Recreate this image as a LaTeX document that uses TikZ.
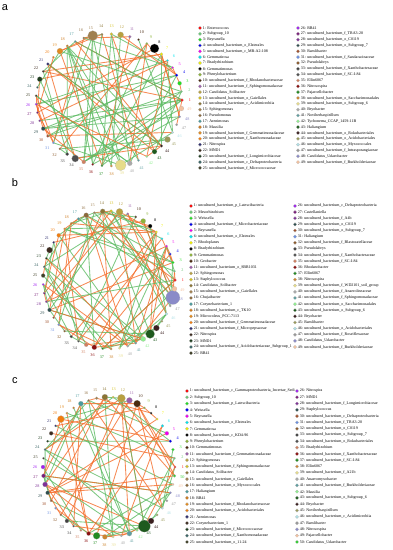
\documentclass[tikz,border=0pt]{standalone}
\usepackage{fontspec}
\setmainfont{Liberation Serif}
\newfontfamily\panelfont{Liberation Sans}
\usetikzlibrary{positioning,backgrounds}

% taxon colours, shared by the three networks
\definecolor{c1}{HTML}{FF0000}\definecolor{c2}{HTML}{6CC67A}\definecolor{c3}{HTML}{22DD22}
\definecolor{c4}{HTML}{0000EE}\definecolor{c5}{HTML}{EE00EE}\definecolor{c6}{HTML}{00E5EE}
\definecolor{c7}{HTML}{EEEE00}\definecolor{c8}{HTML}{000000}\definecolor{c9}{HTML}{8DB33A}
\definecolor{c10}{HTML}{4A2A10}\definecolor{c11}{HTML}{9B5FA8}\definecolor{c12}{HTML}{B8A040}
\definecolor{c13}{HTML}{D4C020}\definecolor{c14}{HTML}{8B7535}\definecolor{c15}{HTML}{A08050}
\definecolor{c16}{HTML}{8C6A3C}\definecolor{c17}{HTML}{4B9A9C}\definecolor{c18}{HTML}{CD7A1E}
\definecolor{c19}{HTML}{E08A20}\definecolor{c20}{HTML}{F07D10}\definecolor{c21}{HTML}{2E2E6E}
\definecolor{c22}{HTML}{3D2B1F}\definecolor{c23}{HTML}{1F3D1F}\definecolor{c24}{HTML}{3A6565}
\definecolor{c25}{HTML}{3F3F26}\definecolor{c26}{HTML}{A020F0}\definecolor{c27}{HTML}{7A1F7A}
\definecolor{c28}{HTML}{7F3396}\definecolor{c29}{HTML}{2F4F4F}\definecolor{c30}{HTML}{A0522D}
\definecolor{c31}{HTML}{6A8FE0}\definecolor{c32}{HTML}{8B5A2B}\definecolor{c33}{HTML}{404040}
\definecolor{c34}{HTML}{505050}\definecolor{c35}{HTML}{D08060}\definecolor{c36}{HTML}{8B1010}
\definecolor{c37}{HTML}{228B22}\definecolor{c38}{HTML}{CD8530}\definecolor{c39}{HTML}{E6DC8A}
\definecolor{c40}{HTML}{A9A9A9}\definecolor{c41}{HTML}{5F9EA0}\definecolor{c42}{HTML}{90EE90}
\definecolor{c43}{HTML}{1E5A1E}\definecolor{c44}{HTML}{3A1F1F}\definecolor{c45}{HTML}{9A9A5A}
\definecolor{c46}{HTML}{B0E0E6}\definecolor{c47}{HTML}{989898}\definecolor{c48}{HTML}{8A8AC8}
\definecolor{c49}{HTML}{F4C2A0}\definecolor{c50}{HTML}{32CD32}
\definecolor{linkgreen}{HTML}{5DBB63}
\definecolor{linkorange}{HTML}{F46D2A}

\tikzset{
  taxon/.style={circle, inner sep=0pt, draw=black!30, line width=0.1pt},
  ringlabel/.style={font=\fontsize{4.2}{4.2}\selectfont, inner sep=0pt},
  legenddot/.style={circle, inner sep=0pt, minimum size=3.4pt, draw=black!30, line width=0.1pt},
  legendtext/.style={font=\fontsize{4}{4}\selectfont, inner sep=0pt},
  poslink/.style={draw=linkgreen, opacity=0.8, line width=0.85pt},
  neglink/.style={draw=linkorange, opacity=0.8, line width=0.85pt},
  panellabel/.style={font=\panelfont\fontsize{11}{11}\selectfont, inner sep=0pt}
}

% ring of taxa: name, count, centre x, centre y, x radius, y radius, node radii
\newcommand{\taxonring}[7]{%
  \foreach \rad [count=\k] in {#7} {
    \pgfmathsetmacro\ang{(\k-1)/#2*360}
    \pgfmathsetmacro\dia{2*\rad}
    \pgfmathsetmacro\nx{#3+#5*cos(\ang)}
    \pgfmathsetmacro\ny{#4-#6*sin(\ang)}
    \pgfmathsetmacro\lx{#3+(#5+8)*cos(\ang)}
    \pgfmathsetmacro\ly{#4-(#6+8)*sin(\ang)}
    \node[taxon, fill=c\k, minimum size=\dia pt] (#1\k) at (\nx,\ny) {};
    \node[ringlabel, text=c\k] (#1l\k) at (\lx,\ly) {\k};
  }
}

% correlations: name, count, number of links, seed
\newcommand{\taxonlinks}[4]{%
  \pgfmathsetseed{#4}
  \begin{pgfonlayer}{background}
    \foreach \e in {1,...,#3} {
      \pgfmathrandominteger{\src}{1}{#2}
      \pgfmathrandominteger{\dst}{1}{#2}
      \pgfmathrandominteger{\sgn}{0}{9}
      \ifnum\src=\dst\else
        \ifnum\sgn<5 \draw[poslink] (#1\src.center) -- (#1\dst.center);
        \else \draw[neglink] (#1\src.center) -- (#1\dst.center); \fi
      \fi
    }
  \end{pgfonlayer}
}

% legend: name, x of column 1, x of column 2, y of first row, row step, rows in column 1, entries
\newcommand{\taxonlegend}[7]{%
  \foreach \k/\txt in {#7} {
    \ifnum\k>#6
      \pgfmathsetmacro\lx{#3}\pgfmathsetmacro\ly{#4+(\k-#6-1)*#5}
    \else
      \pgfmathsetmacro\lx{#2}\pgfmathsetmacro\ly{#4+(\k-1)*#5}
    \fi
    \node[legenddot, fill=c\k] (#1d\k) at (\lx,\ly) {};
    \node[legendtext, right=0.9pt of #1d\k] (#1t\k) {\k: \txt};
  }
}

\begin{document}
\begin{tikzpicture}[x=1pt, y=-1pt]
  \useasboundingbox (0,0) rectangle (393,550);

  % panel a
  \node[panellabel] (labela) at (5,8) {a};
  \taxonring{a}{49}{109}{100}{73}{66}{1.5,1.2,2,1.5,1.2,1.2,1.5,4.5,1.2,1.2,
    1.5,3,1.5,1.2,5,1.2,1.2,1.2,3,1.2,1.5,1.2,2.5,1.2,1.2,1.2,1.2,1.2,2,1.5,
    1.2,1.2,1.8,3.5,2,1.2,1.2,1.2,5.5,2.5,1.2,1.2,2.5,1.5,3,1.2,1.2,1.2,2.5}
  \taxonlinks{a}{49}{92}{11}
  \taxonlegend{a}{200}{298}{28}{5.83}{25}{1/Enterococcus, 2/Subgroup\_10, 3/Reyranella,
    4/uncultured\_bacterium\_o\_Elsterales, 5/uncultured\_bacterium\_c\_MB-A2-108,
    6/Gemmatirosa, 7/Bradyrhizobium, 8/Gemmatimonas, 9/Phenylobacterium,
    10/uncultured\_bacterium\_f\_Rhodanobacteraceae, 11/uncultured\_bacterium\_f\_Sphingomonadaceae,
    12/Candidatus\_Solibacter, 13/uncultured\_bacterium\_o\_Gaiellales,
    14/uncultured\_bacterium\_c\_Acidimicrobiia, 15/Sphingomonas, 16/Pseudomonas,
    17/Arenimonas, 18/Massilia, 19/uncultured\_bacterium\_f\_Gemmatimonadaceae,
    20/uncultured\_bacterium\_f\_Xanthomonadaceae, 21/Nitrospira, 22/MND1,
    23/uncultured\_bacterium\_f\_Longimicrobiaceae, 24/uncultured\_bacterium\_c\_Deltaproteobacteria,
    25/uncultured\_bacterium\_f\_Micrococcaceae, 26/RB41, 27/uncultured\_bacterium\_f\_TRA3-20,
    28/uncultured\_bacterium\_o\_C0119, 29/uncultured\_bacterium\_o\_Subgroup\_7,
    30/Ramlibacter, 31/uncultured\_bacterium\_f\_Sandaracinaceae, 32/Pseudolabrys,
    33/uncultured\_bacterium\_f\_Xanthobacteraceae, 34/uncultured\_bacterium\_f\_SC-I-84,
    35/Ellin6067, 36/Nitrosospira, 37/Pajaroellobacter,
    38/uncultured\_bacterium\_o\_Saccharimonadales, 39/uncultured\_bacterium\_o\_Subgroup\_6,
    40/Bryobacter, 41/Noviherbaspirillum, 42/Tychonema\_CCAP\_1459-11B, 43/Haliangium,
    44/uncultured\_bacterium\_o\_Rokubacteriales, 45/uncultured\_bacterium\_o\_Acidobacteriales,
    46/uncultured\_bacterium\_o\_Myxococcales, 47/uncultured\_bacterium\_f\_Intrasporangiaceae,
    48/Candidatus\_Udaeobacter, 49/uncultured\_bacterium\_f\_Burkholderiaceae}

  % panel b
  \node[panellabel] (labelb) at (15,183) {b};
  \taxonring{b}{49}{109}{280}{66}{69}{1.5,1.2,1.5,1.2,1.2,1.2,1.2,2,2.5,1.2,
    1.2,3.5,1.5,2.5,1.2,2.5,1.5,1.2,1.2,2,1.2,3,1.2,1.2,2,1.2,1.2,1.2,2,1.2,
    1.2,1.2,1.5,1.2,2,2.5,1.2,1.2,1.2,1.2,1.2,2.5,4.5,3,1.2,1.5,1.2,7,2.5}
  \taxonlinks{b}{49}{102}{23}
  \taxonlegend{b}{191}{295}{206}{6.13}{25}{1/uncultured\_bacterium\_p\_Latescibacteria,
    2/Mesorhizobium, 3/Weissella, 4/uncultured\_bacterium\_f\_Microbacteriaceae,
    5/Reyranella, 6/uncultured\_bacterium\_o\_Elsterales, 7/Rhodoplanes, 8/Bradyrhizobium,
    9/Gemmatimonas, 10/Geobacter, 11/uncultured\_bacterium\_o\_SBR1031, 12/Sphingomonas,
    13/Staphylococcus, 14/Candidatus\_Solibacter, 15/uncultured\_bacterium\_o\_Gaiellales,
    16/Chujaibacter, 17/Corynebacterium\_1, 18/uncultured\_bacterium\_c\_TK10,
    19/Microcoleus\_PCC-7113, 20/uncultured\_bacterium\_f\_Gemmatimonadaceae,
    21/uncultured\_bacterium\_f\_Micropepsaceae, 22/Nitrospira, 23/MND1,
    24/uncultured\_bacterium\_f\_Acidobacteriaceae\_Subgroup\_1, 25/RB41,
    26/uncultured\_bacterium\_c\_Deltaproteobacteria, 27/Castellaniella,
    28/uncultured\_bacterium\_f\_A4b, 29/uncultured\_bacterium\_o\_C0119,
    30/uncultured\_bacterium\_o\_Subgroup\_7, 31/Haliangium,
    32/uncultured\_bacterium\_f\_Blastocatellaceae, 33/Pseudolabrys,
    34/uncultured\_bacterium\_f\_Xanthobacteraceae, 35/uncultured\_bacterium\_f\_SC-I-84,
    36/Rhodanobacter, 37/Ellin6067, 38/Nitrosospira,
    39/uncultured\_bacterium\_f\_WD2101\_soil\_group, 40/uncultured\_bacterium\_f\_Anaerolineaceae,
    41/uncultured\_bacterium\_f\_Sphingomonadaceae, 42/uncultured\_bacterium\_o\_Saccharimonadales,
    43/uncultured\_bacterium\_o\_Subgroup\_6, 44/Bryobacter, 45/Ramlibacter,
    46/uncultured\_bacterium\_o\_Acidobacteriales, 47/uncultured\_bacterium\_f\_Roseiflexaceae,
    48/Candidatus\_Udaeobacter, 49/uncultured\_bacterium\_f\_Burkholderiaceae}

  % panel c
  \node[panellabel] (labelc) at (15,381) {c};
  \taxonring{c}{50}{109}{467}{66}{70}{1.2,1.2,1.5,1.5,2,1.5,1.2,1.2,1.2,3.5,
    3,4,1.2,3,1.5,1.2,2.5,1.2,1.2,3.5,1.2,2,1.2,1.2,1.2,2,2,2.5,2,1.2,
    1.2,1.2,2,1.2,1.2,2,3.5,2.5,1.2,1.2,2.5,1.2,6,3,1.2,1.2,1.2,1.2,1.2,1.5}
  \taxonlinks{c}{50}{86}{37}
  \taxonlegend{c}{187}{297}{391}{6.29}{25}{1/uncultured\_bacterium\_c\_Gammaproteobacteria\_Incertae\_Sedi,
    2/Subgroup\_10, 3/uncultured\_bacterium\_p\_Latescibacteria, 4/Weissella, 5/Reyranella,
    6/uncultured\_bacterium\_o\_Elsterales, 7/Gemmatirosa, 8/uncultured\_bacterium\_c\_KD4-96,
    9/Phenylobacterium, 10/Gemmatimonas, 11/uncultured\_bacterium\_f\_Gemmatimonadaceae,
    12/Sphingomonas, 13/uncultured\_bacterium\_f\_Sphingomonadaceae, 14/Candidatus\_Solibacter,
    15/uncultured\_bacterium\_o\_Gaiellales, 16/uncultured\_bacterium\_o\_Myxococcales,
    17/Haliangium, 18/RB41, 19/uncultured\_bacterium\_f\_Rhodanobacteraceae,
    20/uncultured\_bacterium\_o\_Acidobacteriales, 21/Arenimonas, 22/Corynebacterium\_1,
    23/uncultured\_bacterium\_f\_Micrococcaceae, 24/uncultured\_bacterium\_f\_Xanthomonadaceae,
    25/uncultured\_bacterium\_o\_11-24, 26/Nitrospira, 27/MND1,
    28/uncultured\_bacterium\_f\_Longimicrobiaceae, 29/Staphylococcus,
    30/uncultured\_bacterium\_c\_Deltaproteobacteria, 31/uncultured\_bacterium\_f\_TRA3-20,
    32/uncultured\_bacterium\_o\_C0119, 33/uncultured\_bacterium\_o\_Subgroup\_7,
    34/uncultured\_bacterium\_o\_Rokubacteriales, 35/Bradyrhizobium,
    36/uncultured\_bacterium\_f\_Xanthobacteraceae, 37/uncultured\_bacterium\_f\_SC-I-84,
    38/Ellin6067, 39/uncultured\_bacterium\_f\_A21b, 40/Anaeromyxobacter,
    41/uncultured\_bacterium\_f\_Burkholderiaceae, 42/Massilia,
    43/uncultured\_bacterium\_o\_Subgroup\_6, 44/Bryobacter, 45/Noviherbaspirillum,
    46/uncultured\_bacterium\_c\_Acidimicrobiia, 47/Ramlibacter, 48/Nitrosospira,
    49/Pajaroellobacter, 50/Candidatus\_Udaeobacter}
\end{tikzpicture}
\end{document}
